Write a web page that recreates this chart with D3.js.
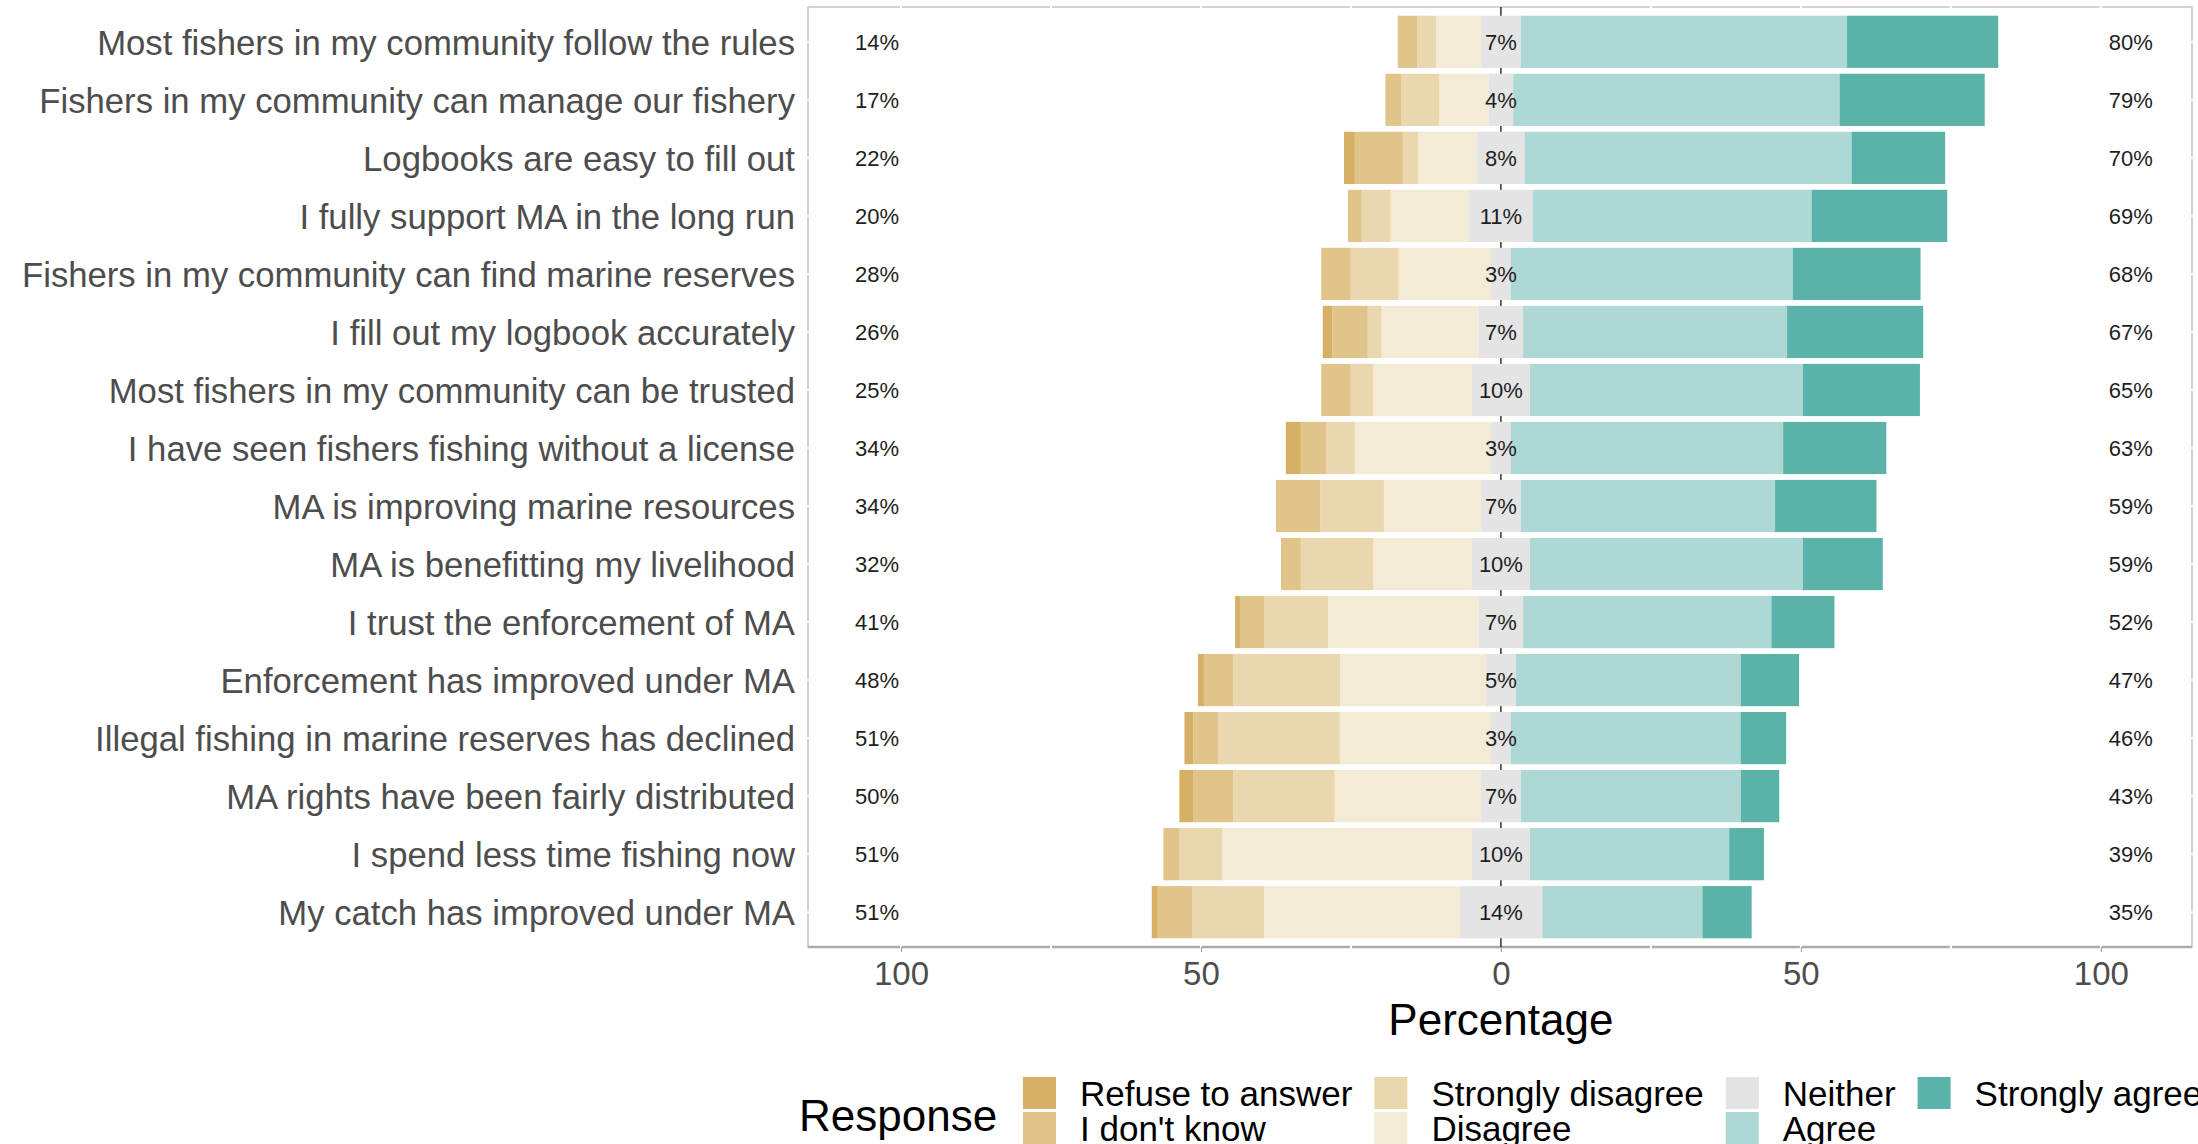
<!DOCTYPE html>
<html>
<head>
<meta charset="utf-8">
<script src="https://cdn.jsdelivr.net/npm/d3@7"></script>
<style>
  body { margin:0; background:#fff; }
  text { font-family:"Liberation Sans", Arial, sans-serif; }
</style>
</head>
<body>
<div class="canvas"></div>
<script>
// survey statements, top to bottom
const items = [
  'Most fishers in my community follow the rules',
  'Fishers in my community can manage our fishery',
  'Logbooks are easy to fill out',
  'I fully support MA in the long run',
  'Fishers in my community can find marine reserves',
  'I fill out my logbook accurately',
  'Most fishers in my community can be trusted',
  'I have seen fishers fishing without a license',
  'MA is improving marine resources',
  'MA is benefitting my livelihood',
  'I trust the enforcement of MA',
  'Enforcement has improved under MA',
  'Illegal fishing in marine reserves has declined',
  'MA rights have been fairly distributed',
  'I spend less time fishing now',
  'My catch has improved under MA'
]

// percentages per response
const refuse      = [0, 0, 1.8, 0, 0, 1.6, 0, 2.5, 0, 0, 0.8, 1.0, 1.5, 2.3, 0, 1.0]
const dontKnow    = [3.3, 2.6, 8.0, 2.3, 4.9, 5.9, 4.9, 4.2, 7.4, 3.3, 4.1, 4.9, 4.1, 6.7, 2.6, 5.7]
const strongDis   = [3.1, 6.4, 2.6, 4.8, 8.0, 2.3, 3.8, 4.8, 10.6, 12.1, 10.6, 17.8, 20.3, 16.9, 7.2, 12.0]
const disagree    = [7.5, 8.2, 9.8, 13.1, 15.4, 16.2, 16.4, 22.7, 16.2, 16.4, 25.1, 24.3, 25.2, 24.4, 41.6, 32.6]
const neither     = [6.6, 4.1, 7.9, 10.6, 3.3, 7.4, 9.7, 3.3, 6.6, 9.7, 7.4, 5.0, 3.3, 6.6, 9.7, 13.8]
const agree       = [54.4, 54.4, 54.5, 46.5, 47.0, 44.0, 45.5, 45.4, 42.4, 45.5, 41.4, 37.5, 38.3, 36.7, 33.2, 26.7]
const strongAgree = [25.2, 24.2, 15.6, 22.6, 21.3, 22.7, 19.5, 17.2, 16.9, 13.3, 10.5, 9.7, 7.6, 6.4, 5.8, 8.2]

const responses = ['Refuse to answer', "I don't know", 'Strongly disagree', 'Disagree', 'Neither', 'Agree', 'Strongly agree']
const colors = ['#d6b064', '#e0c489', '#ebd7ae', '#f4ebd6', '#e4e4e4', '#aed8d4', '#5ab2a9']

const xTicks = [-100, -50, 0, 50, 100]
const gridTicks = [-100, -75, -50, -25, 25, 50, 75, 100]

const margin = {
  top:7,
  right:6,
  bottom:197,
  left:808
}

const graphWidth = 2198 - margin.left - margin.right
const graphHeight = 1144 - margin.top - margin.bottom

const svg = d3.select('.canvas').append('svg').attr('width',2198).attr('height',1144)

const graph = svg.append('g').attr('transform',`translate(${margin.left},${margin.top})`)

//scales
const x = d3.scaleLinear().domain([-115.5,115.2]).range([0,graphWidth])
const y = d3.scaleBand().domain(items).range([0,graphHeight]).paddingInner(0.1).paddingOuter(0.15)

// panel border
graph.append('rect').attr('width',graphWidth).attr('height',graphHeight)
  .attr('fill','none').attr('stroke','#c8c8c8').attr('stroke-width',1.6)
graph.append('line').attr('x1',0).attr('x2',graphWidth).attr('y1',graphHeight).attr('y2',graphHeight)
  .attr('stroke','#ababab').attr('stroke-width',2.4)

// white grid lines (only show where they cut the border)
graph.selectAll('.vgrid').data(gridTicks).enter().append('line')
  .attr('x1',d=>x(d)).attr('x2',d=>x(d)).attr('y1',-3).attr('y2',graphHeight+3)
  .attr('stroke','#fff').attr('stroke-width',2)
graph.selectAll('.hgrid').data(items).enter().append('line')
  .attr('x1',-3).attr('x2',graphWidth+3)
  .attr('y1',d=>y(d)+y.bandwidth()/2).attr('y2',d=>y(d)+y.bandwidth()/2)
  .attr('stroke','#fff').attr('stroke-width',2)

// zero line
graph.append('line').attr('x1',x(0)).attr('x2',x(0)).attr('y1',0).attr('y2',graphHeight)
  .attr('stroke','#222').attr('stroke-width',1.4)

// build segments for every row
const rows = items.map((item,i) => {
  const vals = [refuse[i], dontKnow[i], strongDis[i], disagree[i], neither[i], agree[i], strongAgree[i]]
  const segs = []
  // left side, from the middle outwards
  let pos = -neither[i]/2
  for (let k = 3; k >= 0; k--) {
    segs.push({item, k, x0:pos - vals[k], x1:pos})
    pos -= vals[k]
  }
  segs.push({item, k:4, x0:-neither[i]/2, x1:neither[i]/2})
  pos = neither[i]/2
  for (let k = 5; k <= 6; k++) {
    segs.push({item, k, x0:pos, x1:pos + vals[k]})
    pos += vals[k]
  }
  return {
    item,
    segs,
    left: refuse[i] + dontKnow[i] + strongDis[i] + disagree[i],
    mid: neither[i],
    right: agree[i] + strongAgree[i]
  }
})

// bars
graph.selectAll('.row').data(rows).enter().append('g')
  .selectAll('rect').data(d=>d.segs.filter(s=>s.x1 - s.x0 > 0)).enter().append('rect')
  .attr('x',d=>x(d.x0)).attr('width',d=>x(d.x1) - x(d.x0))
  .attr('y',d=>y(d.item)).attr('height',y.bandwidth())
  .attr('fill',d=>colors[d.k])

// percent labels
const pct = v => Math.round(v) + '%'
const labels = graph.append('g').attr('font-size',22).attr('fill','#1e1e1e').attr('text-anchor','middle')
labels.selectAll('.lft').data(rows).enter().append('text')
  .attr('x',x(-104)).attr('y',d=>y(d.item)+y.bandwidth()/2).attr('dy','0.36em').text(d=>pct(d.left))
labels.selectAll('.mid').data(rows).enter().append('text')
  .attr('x',x(0)).attr('y',d=>y(d.item)+y.bandwidth()/2).attr('dy','0.36em').text(d=>pct(d.mid))
labels.selectAll('.rgt').data(rows).enter().append('text')
  .attr('x',x(105)).attr('y',d=>y(d.item)+y.bandwidth()/2).attr('dy','0.36em').text(d=>pct(d.right))

// axes
const xAxisGroup = graph.append('g').attr('transform',`translate(0,${graphHeight})`)
xAxisGroup.call(d3.axisBottom(x).tickValues(xTicks).tickSize(5).tickFormat(d=>Math.abs(d)))
xAxisGroup.select('.domain').remove()
xAxisGroup.selectAll('line').attr('stroke','#999')
xAxisGroup.selectAll('text').attr('font-size',33).attr('fill','#4d4d4d').attr('y',38).attr('dy',0)
  .style('font-family','"Liberation Sans", Arial, sans-serif')

const yAxisGroup = graph.append('g')
yAxisGroup.call(d3.axisLeft(y).tickSize(0).tickPadding(13))
yAxisGroup.select('.domain').remove()
yAxisGroup.selectAll('text').attr('font-size',34.7).attr('fill','#4d4d4d').attr('dy','0.38em')
  .style('font-family','"Liberation Sans", Arial, sans-serif')

// axis title
svg.append('text').attr('x',margin.left + x(0)).attr('y',1035).attr('text-anchor','middle')
  .attr('font-size',44).attr('fill','#000').text('Percentage')

// legend
const legend = svg.append('g')
legend.append('text').attr('x',799).attr('y',1131).attr('font-size',44).attr('fill','#000').text('Response')

const legendCols = [[0,1],[2,3],[4,5],[6]]
let colX = 1023
legendCols.forEach(col => {
  let maxW = 0
  col.forEach((k,r) => {
    const top = 1077 + r*35
    legend.append('rect').attr('x',colX).attr('y',top).attr('width',33).attr('height',32).attr('fill',colors[k])
    const t = legend.append('text').attr('x',colX + 57).attr('y',top + 29).attr('font-size',35).attr('fill','#000').text(responses[k])
    maxW = Math.max(maxW, t.node().getComputedTextLength())
  })
  colX = colX + 57 + maxW + 22
})
</script>
</body>
</html>
